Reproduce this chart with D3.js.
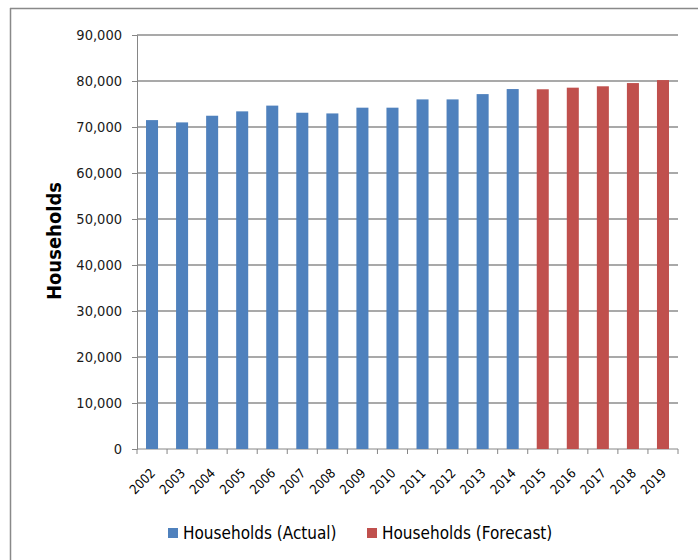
<!DOCTYPE html>
<html lang="en">
<head>
  <meta charset="UTF-8">
  <title>Households</title>
  <style>
    body { margin: 0; background: #fff; }
    svg { display: block; }
  </style>
</head>
<body>
  <svg width="698" height="560" class="svgs"></svg>
  <script src="https://cdn.jsdelivr.net/npm/d3@7/dist/d3.min.js"></script>
  <script>
    const years = ['2002', '2003', '2004', '2005', '2006', '2007', '2008', '2009', '2010',
      '2011', '2012', '2013', '2014', '2015', '2016', '2017', '2018', '2019']
    const actual = [71500, 71000, 72450, 73400, 74650, 73100, 72950, 74200, 74200,
      76000, 76000, 77150, 78250, null, null, null, null, null]
    const forecast = [null, null, null, null, null, null, null, null, null,
      null, null, null, null, 78200, 78550, 78850, 79550, 80200]
    const yTicks = [0, 10000, 20000, 30000, 40000, 50000, 60000, 70000, 80000, 90000]
    const seriesNames = ['Households (Actual)', 'Households (Forecast)']
    const colors = ['#4F81BD', '#C0504D']
    const font = '"DejaVu Sans Condensed", "Liberation Sans", sans-serif'

    const mainsvg = d3.select('.svgs')
    const width = +mainsvg.attr('width')
    const height = +mainsvg.attr('height')
    const margin = { top: 35, right: 20, bottom: 111, left: 137 }
    const innerWidth = width - margin.left - margin.right
    const innerHeight = height - margin.top - margin.bottom

    // outer chart frame: only left and top edges are visible in the picture
    mainsvg.append('line')
      .attr('x1', 10.5).attr('x2', 10.5).attr('y1', 8).attr('y2', height)
      .attr('stroke', '#898989').attr('stroke-width', 1.5)
    mainsvg.append('line')
      .attr('x1', 10).attr('x2', width).attr('y1', 8.5).attr('y2', 8.5)
      .attr('stroke', '#898989').attr('stroke-width', 1.5)

    const xScale = d3.scaleBand()
      .domain(years)
      .range([0, innerWidth])
      .paddingInner(0.6)
      .paddingOuter(0.3)

    const yScale = d3.scaleLinear()
      .domain([0, 90000])
      .range([innerHeight, 0])

    const g = mainsvg.append('g')
      .attr('transform', `translate(${margin.left}, ${margin.top})`)

    // gridlines
    g.append('g')
      .selectAll('line')
      .data(yTicks.filter(d => d > 0))
      .join('line')
      .attr('x1', 0).attr('x2', innerWidth)
      .attr('y1', d => yScale(d)).attr('y2', d => yScale(d))
      .attr('stroke', '#8c8c8c')
      .attr('stroke-width', 1.3)

    const yAxis = d3.axisLeft(yScale)
      .tickValues(yTicks)
      .tickFormat(d3.format(','))
      .tickSize(5)
      .tickPadding(10)
    const yg = g.append('g').call(yAxis)
      .attr('font-family', font)
      .attr('font-size', 14.5)
    yg.selectAll('text').attr('fill', '#1a1a1a')
    yg.select('.domain').attr('stroke', '#868686')
    yg.selectAll('.tick line').attr('stroke', '#868686')

    // x axis with ticks between categories, labels centred under the bars
    const xAxis = d3.axisBottom(xScale)
      .tickSize(0)
      .tickPadding(0)
    const xg = g.append('g')
      .attr('transform', `translate(0, ${innerHeight})`)
      .call(xAxis)
      .attr('font-family', font)
      .attr('font-size', 13)
    xg.select('.domain').remove()
    xg.append('line')
      .attr('x1', 0).attr('x2', innerWidth)
      .attr('stroke', '#868686')
    xg.selectAll('.xtick')
      .data(d3.range(years.length + 1))
      .join('line')
      .attr('class', 'xtick')
      .attr('x1', i => i * innerWidth / years.length)
      .attr('x2', i => i * innerWidth / years.length)
      .attr('y1', 0).attr('y2', 5)
      .attr('stroke', '#868686')
    xg.selectAll('.tick text')
      .attr('fill', '#000')
      .attr('text-anchor', 'end')
      .attr('dy', null)
      .attr('x', 4)
      .attr('y', 25)
      .attr('transform', 'rotate(-45, 4, 25)')

    // bars
    const series = [actual, forecast]
    series.forEach((vals, si) => {
      g.append('g')
        .selectAll('rect')
        .data(years.map((y, i) => ({ year: y, value: vals[i] })).filter(d => d.value != null))
        .join('rect')
        .attr('x', d => xScale(d.year))
        .attr('y', d => yScale(d.value))
        .attr('width', xScale.bandwidth())
        .attr('height', d => innerHeight - yScale(d.value))
        .attr('fill', colors[si])
    })

    // y axis title
    mainsvg.append('text')
      .text('Households')
      .attr('font-family', font)
      .attr('font-size', 20)
      .attr('font-weight', 'bold')
      .attr('fill', '#000')
      .attr('text-anchor', 'middle')
      .attr('x', 61).attr('y', 241)
      .attr('transform', 'rotate(-90, 61, 241)')

    // legend
    const legend = mainsvg.append('g').attr('transform', 'translate(168, 528)')
    const legendX = [0, 199]
    seriesNames.forEach((name, i) => {
      legend.append('rect')
        .attr('x', legendX[i]).attr('y', 0)
        .attr('width', 10).attr('height', 10)
        .attr('fill', colors[i])
      legend.append('text')
        .attr('x', legendX[i] + 15).attr('y', 10.5)
        .attr('font-family', font)
        .attr('font-size', 17)
        .attr('fill', '#000')
        .text(name)
    })
  </script>
</body>
</html>
